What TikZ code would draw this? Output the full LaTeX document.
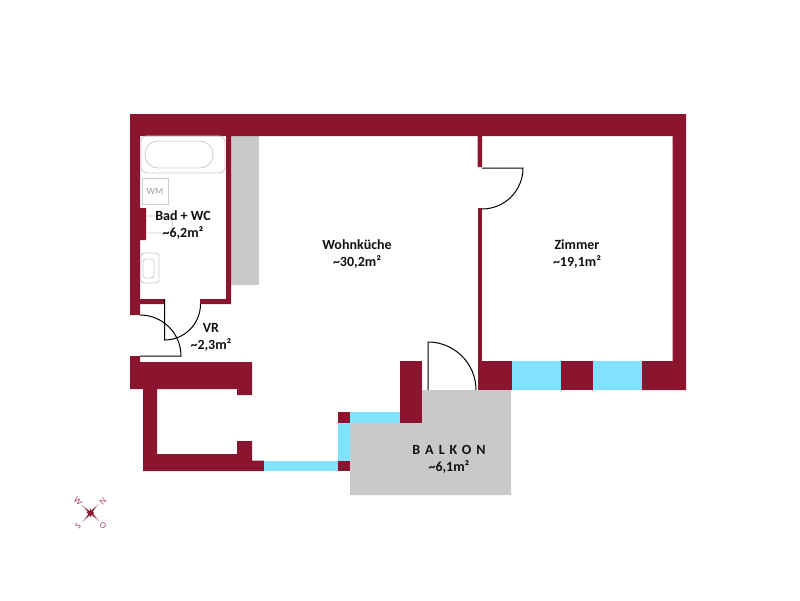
\documentclass[tikz,border=0pt]{standalone}
\usepackage{fontspec}
\setmainfont{Carlito}
\newfontfamily\spacedfont[LetterSpace=36]{Carlito}
\definecolor{wallred}{HTML}{8B152F}
\definecolor{glassblue}{HTML}{80E2FF}
\definecolor{floorgrey}{HTML}{C9C9C9}
\definecolor{fixgrey}{HTML}{CFCFCF}
\definecolor{labeldark}{HTML}{111111}

\begin{document}
\begin{tikzpicture}[x=1pt,y=-1pt,
    wall/.style={fill=wallred},
    glass/.style={fill=glassblue},
    floorpart/.style={fill=floorgrey},
    fixture/.style={draw=fixgrey,line width=0.9pt},
    door/.style={draw=black,line width=1pt},
    room/.style={align=center,font=\fontsize{14}{17}\selectfont\bfseries,text=labeldark,inner sep=0pt},
    wind/.style={text=wallred!80,font=\fontsize{9}{10}\selectfont,inner sep=0pt}]
   \useasboundingbox (0,0) rectangle (800,600);

   % grey areas
   \path[floorpart] (231,136) rectangle (259,285);
   \path[floorpart] (350,423) -- (421.5,423) -- (421.5,390) -- (511,390) -- (511,495) -- (350,495) -- cycle;

   % walls
   \path[wall] (130,114) -- (686,114) -- (686,390) -- (642,390) -- (642,361) -- (672.5,361)
      -- (672.5,136) -- (482,136) -- (482,167) -- (477.5,167) -- (477.5,136) -- (231,136)
      -- (231,304) -- (200,304) -- (200,299) -- (226,299) -- (226,136) -- (140,136)
      -- (140,208) -- (146,208) -- (146,240) -- (140,240) -- (140,299) -- (164,299) -- (164,304)
      -- (140,304) -- (140,315) -- (130,315) -- cycle;
   \path[wall] (477.5,208) rectangle (482,362);
   \path[wall] (477.5,361) rectangle (511.5,390);
   \path[wall] (561,361) rectangle (593,390);
   \path[wall] (400,361) -- (421.5,361) -- (421.5,423) -- (400,423) -- cycle;
   \path[wall] (130,356) -- (140,356) -- (140,362) -- (252,362) -- (252,395) -- (237,395) -- (237,389)
      -- (157,389) -- (157,454) -- (237,454) -- (237,441) -- (252,441) -- (252,460.5) -- (264,460.5)
      -- (264,471) -- (143,471) -- (143,389) -- (130,389) -- cycle;
   \path[wall] (338,412) rectangle (350,423);
   \path[wall] (338,460.5) rectangle (350,471);

   % windows
   \foreach \xa/\xb in {511.5/561,593/642}
      \path[glass] (\xa,361) rectangle (\xb,390);
   \path[glass] (264,460.5) rectangle (338,471);
   \path[glass] (338,423) rectangle (350,460.5);
   \path[glass] (350,412) rectangle (400,423);

   % bathroom
   \draw[fixture,rounded corners=6pt] (141,136) rectangle (225,173);
   \draw[fixture,rounded corners=13pt] (145,141) rectangle (213,168);
   \draw[fixture] (142,178) rectangle (168,204);
   \node[text=fixgrey!75!black,font=\fontsize{9.5}{10}\selectfont,inner sep=0pt] (wm) at (155,191) {WM};
   \draw[fixture] (146,216) -- (165,216) .. controls (175,216) and (175,233) .. (165,233) -- (146,233);
   \draw[fixture,rounded corners=3pt] (141,253) rectangle (159,283);
   \draw[fixture,rounded corners=3pt] (143,259) rectangle (154,278);

   % doors
   \draw[door] (164.5,299) -- (164.5,340) arc[start angle=90,end angle=0,radius=36];
   \draw[door] (140,356) -- (181,356) arc[start angle=0,end angle=-90,radius=41];
   \draw[door] (428,390) -- (428,342) arc[start angle=-90,end angle=0,radius=48];
   \draw[door] (482,168) -- (523,168) arc[start angle=0,end angle=90,radius=41];

   % rooms
   \node[room] (bad) at (183,225) {Bad + WC\\\char`~6,2m²};
   \node[room] (wohnkueche) at (357,254.5) {Wohnküche\\\char`~30,2m²};
   \node[room] (zimmer) at (577,254.5) {Zimmer\\\char`~19,1m²};
   \node[room] (vr) at (211,337) {VR\\\char`~2,3m²};
   \node[room] (balkon) at (449,459) {{\spacedfont\bfseries BALKON}\\\char`~6,1m²};

   % compass
   \foreach \ang in {45,135,225,315}
      \path[draw=wallred!45,line width=0.5pt] (90.5,513) -- ++(\ang-14:4) -- ++(\ang+3:8) -- ++(\ang+177:8) -- cycle;
   \foreach \ang in {45,135,225,315}
      \path[fill=wallred] (90.5,513) -- ++(\ang-25:2.5) -- ++(\ang+8:6) -- ++(\ang+172:6) -- cycle;
   \foreach \ang in {0,90,180,270}
      \path[fill=wallred] (90.5,513) -- ++(\ang-45:2) -- ++(\ang+30:3) -- ++(\ang+150:3) -- cycle;
   \node[wind,rotate=-45] (w) at (78,501) {W};
   \node[wind,rotate=45] (n) at (103,501) {N};
   \node[wind,rotate=45] (s) at (78,526) {S};
   \node[wind,rotate=-45] (o) at (103,526) {O};
\end{tikzpicture}
\end{document}
